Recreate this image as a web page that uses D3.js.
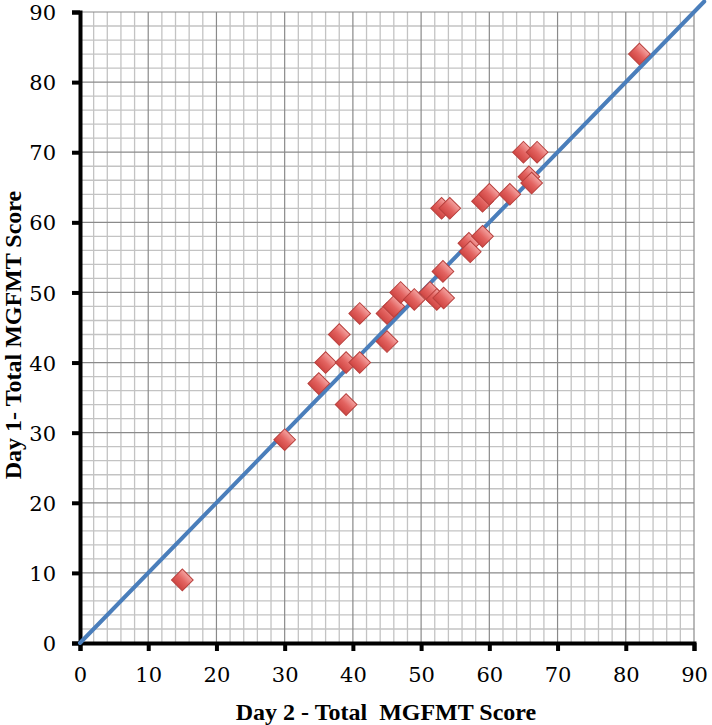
<!DOCTYPE html>
<html>
<head>
<meta charset="utf-8">
<script src="https://d3js.org/d3.v7.min.js"></script>
<style>
  body { margin: 0; background: #fff; }
  .tick text { font-family: "DejaVu Serif", serif; font-size: 21px; fill: #000; }
  .aTitle { font-family: "Liberation Serif", serif; font-weight: bold; font-size: 24px; }
</style>
</head>
<body>
<div id="chart"></div>
<script>
// Day 2 score (x) vs Day 1 score (y)
var day2 = [15, 30, 35, 36, 38, 39, 39, 41, 41, 45, 45, 46, 47, 49, 51.3, 52.3, 53.3, 53.2, 53, 54.2, 57, 57.2, 59, 59, 60, 63, 65, 67, 65.8, 66.2, 82];
var day1 = [9, 29, 37, 40, 44, 40, 34, 47, 40, 47, 43, 48, 50, 49, 50, 49, 49.2, 53, 62, 62, 57, 55.8, 58, 63, 64, 64, 70, 70, 66.5, 65.6, 84];
var tickValues = [0, 10, 20, 30, 40, 50, 60, 70, 80, 90];
var lineEnds = [0, 91.5];

var svgWidth = 712, svgHeight = 725;
var margin = { top: 12, right: 18, bottom: 82, left: 80 };
var width = svgWidth - margin.left - margin.right;
var height = svgHeight - margin.top - margin.bottom;

var svg = d3.select("#chart").append("svg")
  .attr("width", svgWidth)
  .attr("height", svgHeight);

var defs = svg.append("defs");
var grad = defs.append("linearGradient")
  .attr("id", "redGrad")
  .attr("x1", "0").attr("y1", "0").attr("x2", "0").attr("y2", "1");
grad.append("stop").attr("offset", "0%").attr("stop-color", "#f4a3a1");
grad.append("stop").attr("offset", "50%").attr("stop-color", "#e36461");
grad.append("stop").attr("offset", "100%").attr("stop-color", "#cf4542");

var chartGroup = svg.append("g")
  .attr("transform", `translate(${margin.left}, ${margin.top})`);

var x = d3.scaleLinear().domain([0, 90]).range([0, width]);
var y = d3.scaleLinear().domain([0, 90]).range([height, 0]);

// grid: minor every 2, major every 10
var minor = d3.range(2, 91, 2).filter(d => d % 10 !== 0);
var major = tickValues.filter(d => d > 0);

chartGroup.append("g").selectAll("line")
  .data(minor).enter().append("line")
  .attr("x1", d => x(d)).attr("x2", d => x(d))
  .attr("y1", 0).attr("y2", height)
  .attr("stroke", "#c3c3c3").attr("stroke-width", 1.3);
chartGroup.append("g").selectAll("line")
  .data(minor).enter().append("line")
  .attr("y1", d => y(d)).attr("y2", d => y(d))
  .attr("x1", 0).attr("x2", width)
  .attr("stroke", "#c3c3c3").attr("stroke-width", 1.3);
chartGroup.append("g").selectAll("line")
  .data(major).enter().append("line")
  .attr("x1", d => x(d)).attr("x2", d => x(d))
  .attr("y1", 0).attr("y2", height)
  .attr("stroke", "#8a8a8a").attr("stroke-width", 1.2);
chartGroup.append("g").selectAll("line")
  .data(major).enter().append("line")
  .attr("y1", d => y(d)).attr("y2", d => y(d))
  .attr("x1", 0).attr("x2", width)
  .attr("stroke", "#8a8a8a").attr("stroke-width", 1.2);

// axes
var xAxis = d3.axisBottom(x).tickValues(tickValues).tickSize(8).tickPadding(12);
var yAxis = d3.axisLeft(y).tickValues(tickValues).tickSize(8).tickPadding(16);

var gx = chartGroup.append("g")
  .attr("transform", `translate(0, ${height})`)
  .call(xAxis);
var gy = chartGroup.append("g").call(yAxis);

[gx, gy].forEach(function(g) {
  g.select(".domain").attr("stroke", "#000").attr("stroke-width", 4);
  g.selectAll(".tick line").attr("stroke", "#000").attr("stroke-width", 4);
});
gx.selectAll(".tick text").attr("dy", "0.9em");
gy.selectAll(".tick text").attr("dy", "0.36em");

// fit line y = x
chartGroup.append("line")
  .attr("x1", x(lineEnds[0])).attr("y1", y(lineEnds[0]))
  .attr("x2", x(lineEnds[1])).attr("y2", y(lineEnds[1]))
  .attr("stroke", "#4a7ebb")
  .attr("stroke-width", 4)
  .attr("stroke-linecap", "round");

// points
var pts = day2.map((d, i) => ({ x: d, y: day1[i] }));
var diamond = d3.symbol().type(d3.symbolSquare).size(235);
chartGroup.selectAll("path.pt")
  .data(pts).enter().append("path")
  .attr("class", "pt")
  .attr("d", diamond)
  .attr("transform", d => `translate(${x(d.x)}, ${y(d.y)}) rotate(45)`)
  .attr("fill", "url(#redGrad)")
  .attr("stroke", "#b8403d")
  .attr("stroke-width", 1);

// titles
svg.append("text")
  .attr("class", "aTitle")
  .attr("x", 386)
  .attr("y", 720)
  .attr("text-anchor", "middle")
  .attr("xml:space", "preserve")
  .style("white-space", "pre")
  .text("Day 2 - Total  MGFMT Score");

svg.append("text")
  .attr("class", "aTitle")
  .attr("transform", "translate(21, 335) rotate(-90)")
  .attr("text-anchor", "middle")
  .text("Day 1- Total MGFMT Score");
</script>
</body>
</html>
